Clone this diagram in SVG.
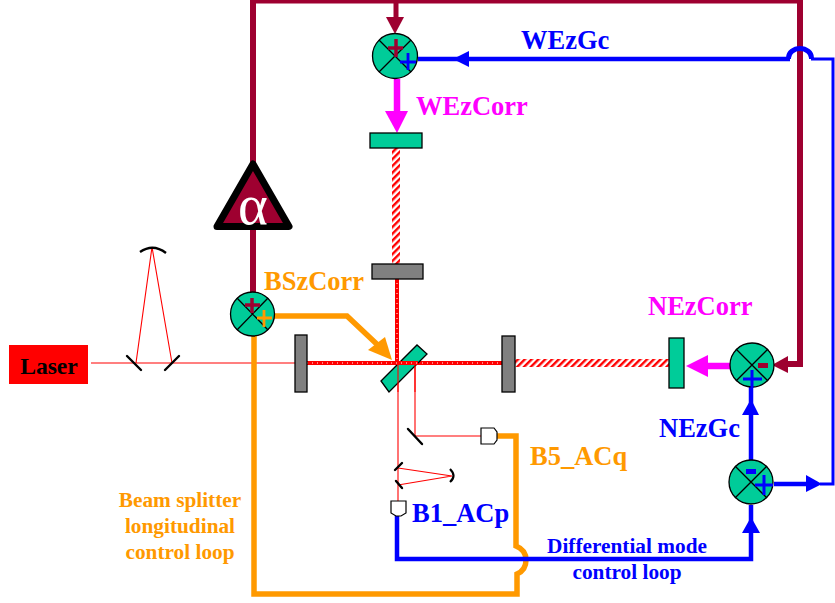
<svg xmlns="http://www.w3.org/2000/svg" width="835" height="603" viewBox="0 0 835 603">
<style>
text{font-family:"Liberation Serif",serif;font-weight:bold}
.sum{fill:#00cc99;stroke:#000;stroke-width:1.3}
.x{stroke:#000;stroke-width:1.3;fill:none}
.grey{fill:#808080;stroke:#000;stroke-width:1.3}
.green{fill:#00cc99;stroke:#000;stroke-width:1.3}
.ray{stroke:#f00;stroke-width:1.1;fill:none}
.mir{stroke:#000;stroke-width:2.4;fill:none;stroke-linecap:round}
.pd{fill:#fff;stroke:#000;stroke-width:1.2}
.dm{stroke:#9e0030;fill:none;stroke-width:6}
.bl{stroke:#00f;fill:none;stroke-width:4.5}
.or{stroke:#f90;fill:none;stroke-width:5.5}
.mg{stroke:#f0f;fill:none;stroke-width:6.5}
.db{stroke:#f00;fill:none;stroke-width:4}
.dots{stroke:#fff;fill:none;stroke-width:1;stroke-dasharray:1 4}
.big{font-size:26.5px}
.small{font-size:21.3px}
</style>
<defs>
<pattern id="hatch" width="4.8" height="4.8" patternUnits="userSpaceOnUse" patternTransform="rotate(45)">
<rect width="4.8" height="4.8" fill="#fff"/><rect width="2.4" height="4.8" fill="#f00"/>
</pattern>
</defs>
<g id="connectors">
<path class="ray" d="M91 363H296"/>
<path class="ray" d="M136 363L152 247L172 363"/>
<path class="ray" d="M398 363V501"/>
<path class="ray" d="M415 363V436H483"/>
<path class="ray" d="M398 468L452 476L398 485"/>
<rect x="392" y="148" width="8" height="116" fill="url(#hatch)"/>
<rect x="513" y="359" width="156" height="8" fill="url(#hatch)"/>
<path class="db" d="M397 278V363"/><path class="dots" d="M397 278V363"/>
<path class="db" d="M307 363H502"/><path class="dots" d="M307 363H502"/>
<path class="dm" d="M253 164V0"/>
<path class="dm" d="M250 0H803" style="stroke-width:7"/>
<path class="dm" d="M800 0V364H786"/>
<path class="dm" d="M396 0V22" style="stroke-width:5"/>
<path d="M386 17H404L395 34Z" fill="#9e0030"/>
<path class="dm" d="M253 226V294"/>
<path class="or" d="M254 336V594H517V574Q526 570 526 560Q526 550 516 546V436H497"/>
<path class="or" d="M274 316H347L382 349"/>
<path d="M368 350L385 337L392 360Z" fill="#f90"/>
<path class="bl" d="M418 59H790"/>
<path d="M788.500 59V58A11.500 9.500 0 0 1 811.500 58V59" stroke="#00f" stroke-width="5" fill="none"/>
<path stroke="#00f" stroke-width="3" fill="none" d="M811 59H833V484H820"/>
<path d="M453 59L469 51V67Z" fill="#00f"/>
<path class="bl" d="M774 484H808"/>
<path d="M806 475L822 484L806 492Z" fill="#00f"/>
<path class="bl" d="M397 515V559H751V505"/>
<path class="bl" d="M751 460V385"/>
<path d="M742 415H759L751 399Z" fill="#00f"/>
<path d="M742 533H760L751 517Z" fill="#00f"/>
<path class="mg" d="M397 79V115"/>
<path d="M385 111H408L397 133Z" fill="#f0f"/>
<path class="mg" d="M731 366H700"/>
<path d="M686 366L708 355V377Z" fill="#f0f"/>
<path d="M788 356V373L772 365Z" fill="#9e0030"/>
</g>
<g id="laser"><rect x="9" y="345" width="79" height="39" fill="#f00"/><text x="49" y="374" font-size="23.6" text-anchor="middle">Laser</text></g>
<g id="mode-cleaner">
<path class="mir" d="M127 356L141 370M179 356L165 370"/>
<path d="M140 252Q153 243 166 253" stroke="#000" stroke-width="2.4" fill="none"/>
</g>
<g id="sum-we">
<circle class="sum" cx="395" cy="56" r="22.5"/>
<path class="x" d="M379 40L411 72M411 40L379 72"/>
<path d="M396 39V57M388 48H403" stroke="#9e0030" stroke-width="3.5"/>
<path d="M408 53V70M400 62H416" stroke="#00f" stroke-width="2.8"/>
</g>
<g id="sum-bs">
<circle class="sum" cx="252.500" cy="314" r="22"/>
<path class="x" d="M237 298L268 330M268 298L237 330"/>
<path d="M252 298V313M245 305H260" stroke="#9e0030" stroke-width="3.5"/>
<path d="M264 310V327M257 318H272" stroke="#f90" stroke-width="2.8"/>
</g>
<g id="sum-ne">
<circle class="sum" cx="752" cy="365" r="22"/>
<path class="x" d="M736 349L768 381M768 349L736 381"/>
<rect x="758" y="363" width="10" height="5" fill="#9e0030"/>
<path d="M752 370V388M743 379H762" stroke="#00f" stroke-width="3"/>
</g>
<g id="sum-diff">
<circle class="sum" cx="751" cy="482" r="22"/>
<path class="x" d="M735 466L767 498M767 466L735 498"/>
<rect x="746" y="469" width="10" height="5" fill="#00f"/>
<path d="M764 475V495M755 485H773" stroke="#00f" stroke-width="3"/>
</g>
<g id="alpha">
<path d="M253 164L289 226.500H217Z" fill="#9e0030" stroke="#000" stroke-width="7" stroke-linejoin="round"/>
<text x="253" y="224" font-size="57" fill="#fff" text-anchor="middle" style="font-weight:normal">α</text>
</g>
<g id="we-actuator"><rect class="green" x="370" y="133" width="52" height="15"/></g>
<g id="ne-actuator"><rect class="green" x="669" y="338" width="15" height="50"/></g>
<g id="we-input"><rect class="grey" x="372" y="264" width="51" height="15"/></g>
<g id="bs-input"><rect class="grey" x="295" y="335" width="12" height="57"/></g>
<g id="ne-input"><rect class="grey" x="502" y="336" width="13" height="56"/></g>
<g id="beam-splitter">
<path class="green" d="M381 381L417 345L427 354L389 392Z"/>
<path class="db" d="M381 363H418"/><path class="dots" d="M381 363H418"/>
<path class="ray" d="M398 363V392M415 363V392"/>
</g>
<g id="b5-path"><path class="mir" d="M408 429L422 444"/><path class="pd" d="M481 428H494L497 432V440L494 444H481Z"/></g>
<g id="b1-path">
<path class="mir" d="M395 470L402 463M396 481L402 488"/>
<path d="M450 469Q457 476 450 482" stroke="#000" stroke-width="2.2" fill="none"/>
<path class="pd" d="M391 501H406V513L401 516H396L391 513Z"/>
</g>
<g id="labels">
<text x="521" y="49" class="big" fill="#00f">WEzGc</text>
<text x="416" y="115" class="big" fill="#f0f">WEzCorr</text>
<text x="264" y="290" class="big" fill="#f90">BSzCorr</text>
<text x="648" y="315" class="big" fill="#f0f">NEzCorr</text>
<text x="659" y="437" class="big" fill="#00f">NEzGc</text>
<text x="530" y="465" class="big" fill="#f90">B5_ACq</text>
<text x="412" y="522" class="big" fill="#00f">B1_ACp</text>
<text x="627" y="553" class="small" fill="#00f" text-anchor="middle">Differential mode</text>
<text x="627" y="579" class="small" fill="#00f" text-anchor="middle">control loop</text>
<text x="180" y="507" class="small" fill="#f90" text-anchor="middle">Beam splitter</text>
<text x="180" y="533" class="small" fill="#f90" text-anchor="middle">longitudinal</text>
<text x="180" y="559" class="small" fill="#f90" text-anchor="middle">control loop</text>
</g>
</svg>
